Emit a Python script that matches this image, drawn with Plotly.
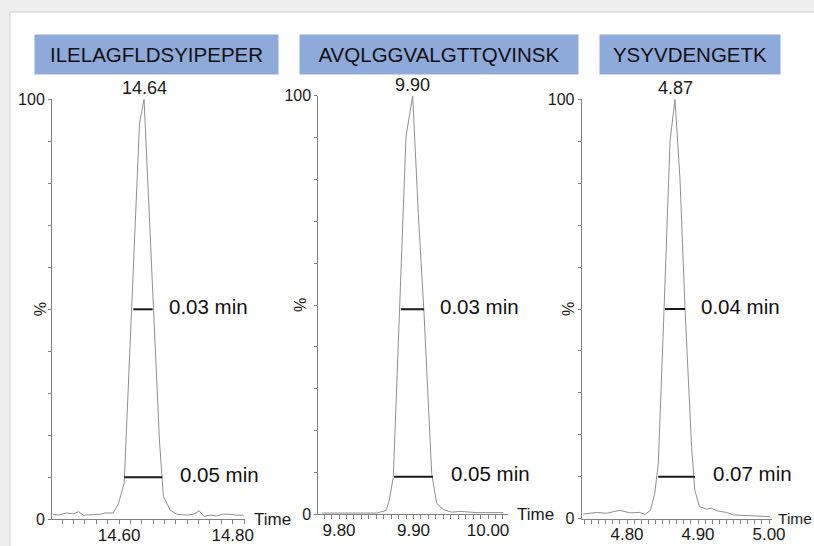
import plotly.graph_objects as go

# ---------------- data ----------------
peptides = ["ILELAGFLDSYIPEPER", "AVQLGGVALGTTQVINSK", "YSYVDENGETK"]
apex_labels = ["14.64", "9.90", "4.87"]
width50_labels = ["0.03 min", "0.03 min", "0.04 min"]
width10_labels = ["0.05 min", "0.05 min", "0.07 min"]

p1_time = [14.4834, 14.4933, 14.508, 14.5196, 14.529, 14.537, 14.555, 14.5666, 14.5754, 14.590,
           14.599, 14.609, 14.636, 14.644, 14.671, 14.678, 14.690, 14.7015, 14.719, 14.731,
           14.741, 14.7495, 14.760, 14.772, 14.782, 14.795, 14.807, 14.819]
p1_int = [1.2, 1.0, 1.5, 1.3, 1.8, 1.0, 1.1, 1.2, 1.5, 1.5,
          3.8, 8.6, 94.3, 100, 18.9, 5.4, 2.2, 1.2, 1.0, 1.2,
          2.0, 0.7, 1.0, 0.8, 1.2, 1.2, 1.0, 1.0]

p2_time = [9.7768, 9.8058, 9.8372, 9.8506, 9.8631, 9.8675, 9.8729, 9.8899, 9.8989, 9.9064,
           9.9141, 9.9244, 9.9311, 9.9400, 9.9513, 9.9624, 9.9848, 10.0205]
p2_int = [0.3, 0.3, 0.4, 0.3, 0.9, 3.4, 9.0, 90.2, 100, 71.9,
          48, 9.8, 2.6, 1.1, 0.5, 0.7, 0.4, 0.4]

p3_time = [4.7385, 4.757, 4.771, 4.790, 4.804, 4.818, 4.825, 4.833, 4.839, 4.844,
           4.852, 4.8606, 4.8676, 4.8746, 4.882, 4.891, 4.8955, 4.902, 4.912, 4.919,
           4.926, 4.940, 4.950, 4.9686, 4.9827, 5.001]
p3_int = [1.1, 1.5, 1.3, 2.0, 1.4, 1.5, 1.0, 2.0, 6.0, 13,
          49, 90, 100, 81, 49, 17, 6.8, 2.9, 2.3, 2.5,
          1.9, 1.5, 0.9, 0.7, 0.7, 0.5]

apex_times = [14.644, 9.899, 4.8676]
bar50_start = [14.625, 9.883, 4.8535]
bar50_end = [14.659, 9.914, 4.8817]
bar50_level = [50, 49, 50]
bar10_start = [14.609, 9.874, 4.844]
bar10_end = [14.676, 9.926, 4.8958]
bar10_level = [10, 9, 10]

x_ranges = [[14.482, 14.8216], [9.7722, 10.0272], [4.7362, 5.0042]]
x_tickvals = [
    [round(14.50 + 0.02 * k, 2) for k in range(17)],
    [round(9.78 + 0.01 * k, 2) for k in range(25)],
    [round(4.74 + 0.01 * k, 2) for k in range(27)],
]
x_major = [["14.60", "14.80"], ["9.80", "9.90", "10.00"], ["4.80", "4.90", "5.00"]]
y_tickvals = list(range(0, 101, 10))
y_major = ["0", "100"]

series_t = [p1_time, p2_time, p3_time]
series_i = [p1_int, p2_int, p3_int]

# ---------------- layout geometry (pixels) ----------------
W, H = 814, 546
x_dom_px = [(52, 245), (318.3, 508.3), (581.7, 772)]
y_dom_px = [(519.3, 99.3), (514.3, 95.7), (518.7, 99.3)]
title_px = [(35, 278), (300, 578), (600, 780)]
title_y = (35, 74)
pct_x_px = [40, 300, 568]
time_shift = [7, 7, 4]
time_size = [17, 17, 15.5]

FONT = "Liberation Sans, Arial, sans-serif"
AXC = "#808080"
TXT = "#1a1a1a"

fig = go.Figure()
layout_axes = {}
annotations = []
for i in range(3):
    sfx = "" if i == 0 else str(i + 1)
    xa, ya = "x" + sfx, "y" + sfx
    fig.add_trace(go.Scatter(x=series_t[i], y=series_i[i], mode="lines",
                             line=dict(color="#8f8f8f", width=1),
                             xaxis=xa, yaxis=ya, showlegend=False, hoverinfo="skip"))
    for s, e, lv in [(bar50_start[i], bar50_end[i], bar50_level[i]),
                     (bar10_start[i], bar10_end[i], bar10_level[i])]:
        fig.add_trace(go.Scatter(x=[s, e], y=[lv, lv], mode="lines",
                                 line=dict(color="#1a1a1a", width=2),
                                 xaxis=xa, yaxis=ya, showlegend=False, hoverinfo="skip"))
    tt = [("%.2f" % v) if ("%.2f" % v) in x_major[i] else "" for v in x_tickvals[i]]
    layout_axes["xaxis" + sfx] = dict(
        domain=[x_dom_px[i][0] / W, x_dom_px[i][1] / W], range=x_ranges[i],
        anchor=ya, showline=True, linecolor=AXC, linewidth=1,
        ticks="outside", ticklen=4, tickcolor=AXC, tickwidth=1,
        tickmode="array", tickvals=x_tickvals[i], ticktext=tt,
        ticklabelstandoff=-4,
        showgrid=False, zeroline=False, automargin=False,
        tickfont=dict(family=FONT, size=17, color=TXT))
    yt = [str(v) if str(v) in y_major else "" for v in y_tickvals]
    layout_axes["yaxis" + sfx] = dict(
        domain=[1 - y_dom_px[i][0] / H, 1 - y_dom_px[i][1] / H], range=[0, 100],
        anchor=xa, showline=True, linecolor=AXC, linewidth=1,
        ticks="outside", ticklen=3, tickcolor=AXC, tickwidth=1,
        tickmode="array", tickvals=y_tickvals, ticktext=yt,
        showgrid=False, zeroline=False, automargin=False,
        tickfont=dict(family=FONT, size=16, color=TXT))
    # apex label
    annotations.append(dict(x=apex_times[i], y=100, xref=xa, yref=ya, text=apex_labels[i],
                            showarrow=False, yanchor="bottom", xanchor="center", yshift=-1,
                            font=dict(family=FONT, size=18, color=TXT)))
    # width labels
    annotations.append(dict(x=bar50_end[i], y=bar50_level[i], xref=xa, yref=ya,
                            text=width50_labels[i], showarrow=False, xanchor="left",
                            yanchor="middle", xshift=14, yshift=3,
                            font=dict(family=FONT, size=20.5, color="#111111")))
    annotations.append(dict(x=bar10_end[i], y=bar10_level[i], xref=xa, yref=ya,
                            text=width10_labels[i], showarrow=False, xanchor="left",
                            yanchor="middle", xshift=16, yshift=3,
                            font=dict(family=FONT, size=20.5, color="#111111")))
    # % label
    annotations.append(dict(x=pct_x_px[i] / W, y=50, xref="paper", yref=ya, text="%",
                            showarrow=False, textangle=-90, xanchor="center", yanchor="middle",
                            font=dict(family=FONT, size=16, color=TXT)))
    # Time label
    annotations.append(dict(x=x_ranges[i][1], y=0, xref=xa, yref=ya, text="Time",
                            showarrow=False, xanchor="left", yanchor="middle",
                            xshift=time_shift[i],
                            font=dict(family=FONT, size=time_size[i], color=TXT)))
    # title box
    x0, x1 = title_px[i]
    annotations.append(dict(x=(x0 + x1) / 2 / W, y=1 - (title_y[0] + title_y[1]) / 2 / H,
                            xref="paper", yref="paper", text=peptides[i], showarrow=False,
                            xanchor="center", yanchor="middle", width=x1 - x0,
                            height=title_y[1] - title_y[0], bgcolor="#8eaadb", borderpad=0,
                            font=dict(family=FONT, size=20.5, color="#111111")))

shapes = [dict(type="rect", xref="paper", yref="paper", x0=10 / W, x1=1.02, y0=-0.02,
               y1=1 - 12 / H, fillcolor="white", line=dict(color="#d0d0d0", width=1),
               layer="below")]

fig.update_layout(width=W, height=H, autosize=False,
                  margin=dict(l=0, r=0, t=0, b=0, pad=0, autoexpand=False),
                  paper_bgcolor="#eeeeee", plot_bgcolor="rgba(0,0,0,0)",
                  annotations=annotations, shapes=shapes, **layout_axes)

fig.write_html("out.html", config={"displayModeBar": False},
               post_script="document.body.style.margin='0';document.body.style.overflow='hidden';")
